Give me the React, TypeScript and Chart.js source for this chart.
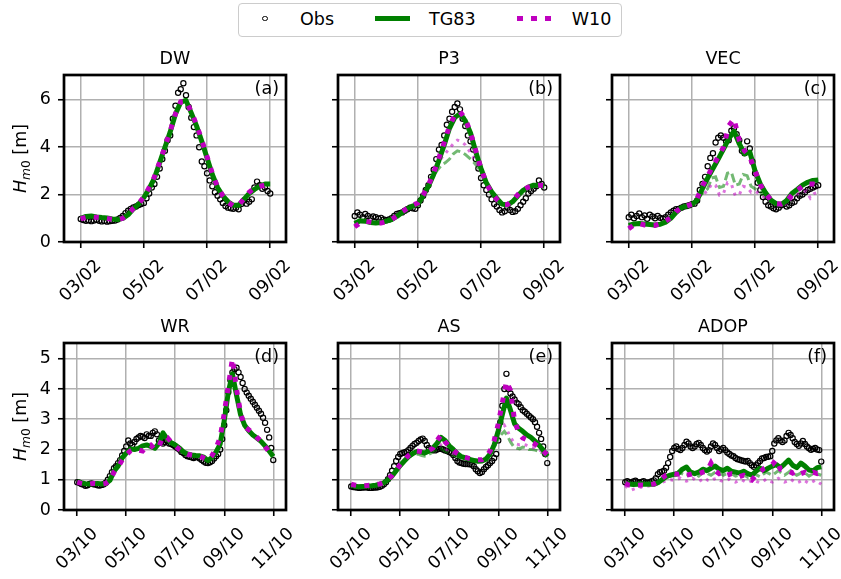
import React, { useEffect, useRef } from 'react';
import { Chart, registerables } from 'chart.js';

Chart.register(...registerables);

const FAMILY = 'DejaVu Sans';
const FONT_PX = 17.5;
Chart.defaults.font.family = FAMILY;

const GREEN = '#008000';
const MAGENTA = '#bf00bf';
const GREEN_LIGHT = 'rgba(0,128,0,0.55)';
const MAGENTA_LIGHT = 'rgba(191,0,191,0.55)';
const GRID = '#b0b0b0';

// Time axes: day of month. Observations every 2 h, model output every 4 h,
// alternative model runs every 3 h.
const START_DAY = 3;
const OBS_STEP = 1 / 12;
const MODEL_STEP = 1 / 6;
const ALT_STEP = 1 / 8;

const TOP_X_TICKS = [3, 5, 7, 9];
const TOP_X_LABELS = ['03/02', '05/02', '07/02', '09/02'];
const BOTTOM_X_TICKS = [3, 5, 7, 9, 11];
const BOTTOM_X_LABELS = ['03/10', '05/10', '07/10', '09/10', '11/10'];
const TOP_Y_TICKS = [0, 2, 4, 6];
const BOTTOM_Y_TICKS = [0, 1, 2, 3, 4, 5];

// ---- DW ----
const dwObs = [0.97, 0.93, 0.90, 0.92, 0.88, 0.91, 0.94, 0.90, 0.87, 0.89, 0.86, 0.88, 0.90,
  0.91, 0.95, 1.02, 1.10, 1.22, 1.32, 1.40, 1.46, 1.50, 1.56, 1.60, 1.65,
  1.85, 2.05, 2.30, 2.45, 2.75, 3.10, 3.50, 3.85, 4.30, 4.50, 5.20, 5.75,
  6.30, 6.45, 6.70, 6.20, 5.70, 5.25, 4.85, 4.50, 4.00, 3.40, 3.20, 2.90,
  2.60, 2.35, 2.10, 1.95, 1.80, 1.65, 1.52, 1.45, 1.42, 1.40, 1.45, 1.38,
  1.60, 1.75, 1.62, 1.70, 1.80, 2.30, 2.55, 2.40, 2.25, 2.30, 2.15, 2.05];
const dwTG83 = [1.00, 1.08, 1.10, 1.06, 1.03, 1.01, 0.97, 0.95, 1.00, 1.15,
  1.40, 1.60, 1.88, 2.25, 2.70, 3.35, 4.00, 4.65, 5.40, 5.90,
  5.98, 5.45, 4.90, 4.25, 3.55, 2.85, 2.30, 1.95, 1.70, 1.55,
  1.55, 1.80, 2.05, 2.22, 2.36, 2.45, 2.45];
const dwW10 = [0.98, 1.04, 1.06, 1.04, 1.02, 0.99, 0.96, 0.94, 1.00, 1.17,
  1.42, 1.62, 1.90, 2.30, 2.75, 3.38, 4.02, 4.68, 5.42, 5.92,
  5.95, 5.50, 4.95, 4.30, 3.60, 2.90, 2.32, 1.95, 1.68, 1.52,
  1.55, 1.82, 2.10, 2.28, 2.35, 2.40, 2.38];

// ---- P3 ----
const p3Obs = [1.10, 1.25, 1.15, 1.05, 1.18, 1.10, 1.00, 1.08, 1.05, 0.98, 1.02, 0.95, 0.92,
  0.95, 1.00, 1.10, 1.18, 1.22, 1.25, 1.32, 1.38, 1.45, 1.42, 1.40, 1.55,
  1.75, 1.95, 2.20, 2.40, 2.75, 3.05, 3.50, 3.90, 4.10, 4.50, 4.95, 5.20,
  5.50, 5.70, 5.85, 5.60, 5.20, 4.90, 4.50, 4.25, 3.90, 3.50, 3.10, 2.70,
  2.40, 2.20, 2.00, 1.80, 1.60, 1.50, 1.35, 1.25, 1.30, 1.45, 1.35, 1.27,
  1.30, 1.40, 1.55, 1.70, 1.85, 2.05, 2.15, 2.25, 2.35, 2.60, 2.45, 2.30];
const p3TG83 = [0.78, 0.90, 0.88, 0.82, 0.80, 0.82, 0.88, 0.95, 1.08, 1.25,
  1.40, 1.52, 1.60, 1.95, 2.35, 2.85, 3.45, 4.10, 4.80, 5.25,
  5.42, 5.12, 4.60, 3.80, 3.10, 2.50, 2.12, 1.84, 1.60, 1.56,
  1.70, 1.95, 2.18, 2.32, 2.40, 2.40, 2.36];
const p3W10 = [0.64, 0.80, 0.88, 0.84, 0.80, 0.80, 0.86, 0.95, 1.10, 1.28,
  1.42, 1.55, 1.65, 1.98, 2.40, 2.92, 3.55, 4.20, 4.90, 5.35,
  5.50, 5.20, 4.62, 3.85, 3.10, 2.48, 2.08, 1.80, 1.60, 1.58,
  1.75, 2.00, 2.20, 2.32, 2.38, 2.40, 2.38];
const p3TG83Alt = [0.78, 0.88, 0.88, 0.84, 0.82, 0.80, 0.81, 0.84,
  0.88, 0.93, 1.02, 1.12, 1.25, 1.36, 1.46, 1.54,
  1.60, 1.85, 2.15, 2.50, 2.80, 3.05, 3.25, 3.35,
  3.50, 3.72, 3.85, 3.80, 3.70, 3.55, 3.40, 3.20,
  2.95, 2.60, 2.25, 2.00, 1.84, 1.66, 1.57, 1.58,
  1.70, 1.88, 2.08, 2.22, 2.32, 2.38, 2.40, 2.40,
  2.36];
const p3W10Alt = [0.64, 0.78, 0.86, 0.86, 0.83, 0.80, 0.80, 0.82,
  0.86, 0.92, 1.02, 1.14, 1.28, 1.38, 1.48, 1.56,
  1.65, 1.90, 2.20, 2.55, 2.90, 3.25, 3.55, 3.75,
  3.95, 4.15, 4.30, 4.25, 4.10, 3.85, 3.60, 3.30,
  3.00, 2.60, 2.22, 1.98, 1.80, 1.66, 1.60, 1.60,
  1.74, 1.92, 2.10, 2.22, 2.32, 2.37, 2.40, 2.39,
  2.38];

// ---- VEC ----
const vecObs = [1.05, 1.15, 1.00, 1.10, 1.20, 1.05, 1.12, 0.98, 1.15, 1.08, 1.00, 1.10, 1.02,
  0.98, 1.05, 1.15, 1.25, 1.32, 1.38, 1.40, 1.45, 1.50, 1.52, 1.55, 1.60,
  1.62, 1.75, 2.20, 2.45, 2.75, 3.20, 3.55, 3.75, 4.20, 4.40, 4.50, 4.40,
  4.25, 4.30, 4.70, 4.80, 4.55, 4.30, 3.85, 3.75, 4.25, 3.95, 3.40, 2.90,
  2.50, 2.20, 1.90, 1.70, 1.55, 1.50, 1.42, 1.38, 1.45, 1.55, 1.60, 1.50,
  1.55, 1.65, 1.70, 1.85, 1.95, 2.00, 2.10, 2.20, 2.25, 2.30, 2.35, 2.40];
const vecTG83 = [0.70, 0.76, 0.78, 0.76, 0.74, 0.72, 0.75, 0.84, 1.00, 1.25,
  1.45, 1.52, 1.58, 1.77, 2.25, 2.70, 3.10, 3.50, 3.92, 4.35,
  4.68, 4.15, 3.72, 3.80, 3.00, 2.45, 2.08, 1.77, 1.62, 1.58,
  1.75, 2.05, 2.22, 2.40, 2.52, 2.60, 2.62];
const vecW10 = [0.56, 0.72, 0.78, 0.72, 0.70, 0.70, 0.78, 0.88, 1.02, 1.28,
  1.45, 1.52, 1.60, 1.85, 2.35, 2.78, 3.20, 3.60, 4.00, 4.90,
  5.20, 4.30, 3.85, 3.60, 3.00, 2.42, 2.05, 1.78, 1.62, 1.60,
  1.72, 1.98, 2.18, 2.35, 2.45, 2.45, 2.40];
const vecTG83Alt = [0.70, 0.75, 0.78, 0.77, 0.76, 0.74, 0.73, 0.72,
  0.75, 0.81, 0.92, 1.08, 1.25, 1.40, 1.50, 1.54,
  1.58, 1.70, 1.95, 2.10, 2.25, 2.70, 2.75, 2.30,
  2.35, 2.90, 2.95, 2.40, 2.45, 2.85, 2.80, 2.35,
  2.25, 2.15, 2.00, 1.85, 1.75, 1.65, 1.60, 1.58,
  1.72, 1.95, 2.12, 2.25, 2.38, 2.48, 2.55, 2.60,
  2.62];
const vecW10Alt = [0.56, 0.68, 0.76, 0.74, 0.72, 0.70, 0.69, 0.70,
  0.76, 0.84, 0.95, 1.12, 1.28, 1.42, 1.48, 1.52,
  1.58, 1.72, 1.92, 2.05, 2.15, 2.45, 2.40, 1.98,
  2.05, 2.50, 2.45, 1.95, 2.00, 2.35, 2.30, 2.10,
  2.15, 2.05, 1.92, 1.80, 1.72, 1.62, 1.58, 1.55,
  1.62, 1.80, 1.95, 2.05, 2.10, 2.15, 1.85, 2.05,
  2.10];

// ---- WR ----
const wrObs = [0.92, 0.90, 0.86, 0.84, 0.80, 0.82, 0.86, 0.88, 0.85, 0.84, 0.82, 0.81, 0.83,
  0.85, 0.90, 1.00, 1.12, 1.25, 1.38, 1.45, 1.55, 1.65, 1.80, 1.95, 2.10,
  2.30, 2.20, 2.15, 2.25, 2.35, 2.40, 2.45, 2.42, 2.38, 2.50, 2.45, 2.45,
  2.55, 2.60, 2.50, 2.30, 2.25, 2.20, 2.25, 2.28, 2.20, 2.18, 2.15, 2.10,
  2.05, 2.00, 1.92, 1.88, 1.82, 1.78, 1.76, 1.74, 1.72, 1.75, 1.74, 1.70,
  1.65, 1.60, 1.56, 1.55, 1.58, 1.62, 1.70, 1.78, 1.85, 2.00, 2.35, 2.80,
  3.30, 3.90, 4.30, 4.55, 4.65, 4.70, 4.55, 4.40, 4.20, 4.00, 3.88, 3.78,
  3.68, 3.58, 3.48, 3.38, 3.28, 3.18, 3.05, 2.88, 2.65, 2.40, 2.05, 1.65];
const wrTG83 = [0.94, 0.90, 0.87, 0.86, 0.87, 0.88, 0.86, 0.87, 0.98, 1.28,
  1.45, 1.72, 1.88, 2.02, 2.00, 2.04, 2.12, 2.15, 2.10, 2.04,
  2.20, 2.55, 2.35, 2.22, 2.15, 2.05, 1.92, 1.85, 1.82, 1.80,
  1.79, 1.75, 1.63, 1.74, 1.92, 2.18, 2.95, 3.90, 4.50, 3.80,
  3.15, 2.80, 2.62, 2.48, 2.38, 2.27, 2.12, 1.95, 1.77];
const wrW10 = [0.92, 0.88, 0.85, 0.86, 0.88, 0.87, 0.86, 0.88, 0.98, 1.25,
  1.42, 1.65, 1.82, 1.95, 2.00, 1.98, 1.95, 2.12, 2.15, 2.00,
  2.10, 2.42, 2.40, 2.25, 2.12, 2.00, 1.90, 1.84, 1.82, 1.80,
  1.78, 1.72, 1.65, 1.80, 2.05, 2.40, 3.20, 4.10, 5.00, 4.00,
  3.20, 2.75, 2.65, 2.55, 2.40, 2.28, 2.10, 1.92, 1.80];

// ---- AS ----
const asObs = [0.78, 0.76, 0.75, 0.74, 0.73, 0.74, 0.74, 0.75, 0.74, 0.73, 0.73, 0.74, 0.74,
  0.75, 0.77, 0.80, 0.85, 0.92, 1.02, 1.15, 1.30, 1.45, 1.62, 1.75, 1.85,
  1.88, 1.90, 1.93, 1.98, 2.05, 2.12, 2.18, 2.22, 2.28, 2.33, 2.36, 2.28,
  2.15, 2.05, 2.00, 1.98, 1.97, 2.00, 2.02, 2.03, 2.00, 1.97, 1.95, 1.92,
  1.88, 1.82, 1.72, 1.62, 1.57, 1.55, 1.53, 1.52, 1.52, 1.51, 1.50, 1.45,
  1.35, 1.28, 1.22, 1.26, 1.35, 1.42, 1.48, 1.55, 1.62, 1.72, 1.85, 2.30,
  2.90, 3.45, 4.00, 4.50, 4.00, 3.85, 3.75, 3.65, 3.55, 3.50, 3.40, 3.30,
  3.25, 3.18, 3.12, 3.06, 3.00, 2.90, 2.75, 2.55, 2.35, 2.10, 1.85, 1.55];
const asTG83 = [0.83, 0.78, 0.77, 0.78, 0.79, 0.80, 0.82, 0.85, 0.90, 1.00,
  1.12, 1.30, 1.47, 1.62, 1.76, 1.86, 1.93, 1.92, 1.88, 1.95,
  2.05, 2.20, 2.40, 2.30, 2.12, 2.00, 1.86, 1.76, 1.72, 1.67,
  1.64, 1.61, 1.62, 1.68, 1.85, 2.15, 2.62, 3.15, 3.70, 3.30,
  2.85, 2.70, 2.60, 2.48, 2.40, 2.28, 2.14, 1.98, 1.77];
const asW10 = [0.85, 0.82, 0.80, 0.80, 0.81, 0.82, 0.84, 0.86, 0.92, 1.02,
  1.14, 1.32, 1.50, 1.65, 1.80, 1.90, 1.95, 1.93, 1.90, 1.96,
  2.05, 2.30, 2.48, 2.25, 2.10, 1.98, 1.86, 1.78, 1.74, 1.70,
  1.68, 1.66, 1.66, 1.75, 1.95, 2.30, 2.85, 3.55, 4.25, 3.95,
  2.95, 2.55, 2.38, 2.32, 2.25, 2.18, 2.08, 1.95, 1.82];
const asTG83Alt = [0.83, 0.80, 0.78, 0.77, 0.78, 0.79, 0.80, 0.81,
  0.82, 0.84, 0.87, 0.92, 1.00, 1.08, 1.20, 1.35,
  1.47, 1.58, 1.68, 1.76, 1.82, 1.85, 1.84, 1.80,
  1.78, 1.82, 1.88, 1.95, 2.02, 2.05, 1.98, 1.92,
  1.88, 1.82, 1.78, 1.74, 1.70, 1.68, 1.66, 1.64,
  1.62, 1.60, 1.60, 1.62, 1.66, 1.78, 1.95, 2.15,
  2.35, 2.50, 2.60, 2.45, 2.25, 2.10, 2.05, 2.02,
  2.08, 2.05, 2.00, 2.00, 1.98, 1.95, 1.90, 1.85,
  1.77];
const asW10Alt = [0.85, 0.83, 0.81, 0.80, 0.80, 0.81, 0.82, 0.83,
  0.84, 0.86, 0.89, 0.94, 1.02, 1.10, 1.22, 1.37,
  1.50, 1.62, 1.72, 1.80, 1.86, 1.90, 1.90, 1.88,
  1.86, 1.90, 1.96, 2.04, 2.12, 2.18, 2.08, 2.00,
  1.95, 1.88, 1.82, 1.77, 1.74, 1.72, 1.70, 1.68,
  1.66, 1.65, 1.65, 1.68, 1.74, 1.88, 2.08, 2.30,
  2.52, 2.70, 2.80, 2.62, 2.40, 2.25, 2.18, 2.15,
  2.18, 2.15, 2.10, 2.08, 2.05, 2.00, 1.95, 1.88,
  1.82];

// ---- ADOP ----
const adopObs = [0.92, 0.95, 0.92, 0.90, 0.94, 0.97, 0.92, 0.90, 0.93, 0.95, 0.91, 0.90, 0.92,
  0.95, 0.98, 1.05, 1.18, 1.25, 1.27, 1.30, 1.40, 1.55, 1.75, 1.95, 2.05,
  2.10, 2.02, 1.98, 2.05, 2.15, 2.26, 2.20, 2.10, 2.05, 2.10, 2.18, 2.22,
  2.15, 2.05, 1.98, 1.93, 1.98, 2.10, 2.20, 2.15, 2.05, 1.95, 2.00, 2.05,
  1.98, 1.90, 1.85, 1.80, 1.78, 1.72, 1.68, 1.66, 1.64, 1.62, 1.60, 1.62,
  1.55, 1.48, 1.43, 1.48, 1.55, 1.62, 1.70, 1.72, 1.75, 1.76, 1.78, 1.95,
  2.20, 2.30, 2.37, 2.30, 2.25, 2.30, 2.45, 2.55, 2.48, 2.37, 2.25, 2.18,
  2.12, 2.20, 2.28, 2.18, 2.10, 2.04, 1.99, 2.02, 2.05, 2.00, 1.98, 1.60];
const adopTG83 = [0.88, 0.86, 0.84, 0.85, 0.86, 0.85, 0.86, 0.85, 0.90, 1.00,
  1.10, 1.15, 1.18, 1.22, 1.35, 1.42, 1.25, 1.20, 1.25, 1.35,
  1.30, 1.38, 1.45, 1.35, 1.30, 1.38, 1.28, 1.25, 1.22, 1.28,
  1.20, 1.15, 1.28, 1.38, 1.30, 1.38, 1.45, 1.50, 1.40, 1.52,
  1.65, 1.48, 1.40, 1.55, 1.45, 1.32, 1.30, 1.40, 1.43];
const adopW10 = [0.88, 0.82, 0.80, 0.82, 0.83, 0.82, 0.84, 0.86, 0.92, 1.05,
  1.15, 1.20, 1.20, 1.18, 1.22, 1.15, 1.18, 1.22, 1.20, 1.25,
  1.28, 1.55, 1.30, 1.20, 1.25, 1.15, 1.20, 1.18, 1.10, 1.15,
  1.05, 0.99, 1.15, 1.25, 1.38, 1.45, 1.50, 1.66, 1.35, 1.30,
  1.28, 1.22, 1.30, 1.20, 1.25, 1.18, 1.25, 1.20, 1.25];
const adopTG83Alt = [0.88, 0.85, 0.84, 0.83, 0.84, 0.85, 0.84, 0.85,
  0.86, 0.86, 0.88, 0.95, 1.00, 1.06, 1.10, 1.12,
  1.12, 1.15, 1.22, 1.18, 1.12, 1.18, 1.25, 1.18,
  1.12, 1.20, 1.28, 1.20, 1.15, 1.22, 1.30, 1.22,
  1.15, 1.20, 1.25, 1.18, 1.12, 1.15, 1.22, 1.15,
  1.08, 1.12, 1.20, 1.15, 1.10, 1.18, 1.25, 1.20,
  1.15, 1.22, 1.30, 1.22, 1.15, 1.22, 1.30, 1.22,
  1.15, 1.20, 1.28, 1.20, 1.12, 1.18, 1.25, 1.18,
  1.15];
const adopW10Alt = [0.80, 0.72, 0.66, 0.70, 0.74, 0.76, 0.75, 0.78,
  0.80, 0.82, 0.85, 0.88, 0.92, 0.95, 0.98, 1.00,
  0.98, 1.02, 1.05, 0.98, 0.95, 1.00, 1.05, 0.98,
  0.94, 1.00, 1.06, 0.98, 0.95, 1.02, 1.05, 0.98,
  0.94, 0.98, 1.02, 0.96, 0.92, 0.96, 1.00, 0.94,
  0.90, 0.95, 1.00, 0.94, 0.90, 0.95, 1.02, 0.96,
  0.92, 0.98, 1.05, 0.98, 0.92, 0.96, 1.02, 0.95,
  0.90, 0.94, 1.00, 0.94, 0.88, 0.92, 0.98, 0.92,
  0.85];

type Row = 'top' | 'bottom';
interface PanelSpec {
  title: string;
  letter: string;
  row: Row;
  col: number;
  obs: number[];
  tg83: number[];
  w10: number[];
  tg83Alt?: number[];
  w10Alt?: number[];
}

const PANELS: PanelSpec[] = [
  { title: 'DW', letter: '(a)', row: 'top', col: 0, obs: dwObs, tg83: dwTG83, w10: dwW10 },
  { title: 'P3', letter: '(b)', row: 'top', col: 1, obs: p3Obs, tg83: p3TG83, w10: p3W10, tg83Alt: p3TG83Alt, w10Alt: p3W10Alt },
  { title: 'VEC', letter: '(c)', row: 'top', col: 2, obs: vecObs, tg83: vecTG83, w10: vecW10, tg83Alt: vecTG83Alt, w10Alt: vecW10Alt },
  { title: 'WR', letter: '(d)', row: 'bottom', col: 0, obs: wrObs, tg83: wrTG83, w10: wrW10 },
  { title: 'AS', letter: '(e)', row: 'bottom', col: 1, obs: asObs, tg83: asTG83, w10: asW10, tg83Alt: asTG83Alt, w10Alt: asW10Alt },
  { title: 'ADOP', letter: '(f)', row: 'bottom', col: 2, obs: adopObs, tg83: adopTG83, w10: adopW10, tg83Alt: adopTG83Alt, w10Alt: adopW10Alt },
];

// Layout of the 2x3 grid of axes (page pixels)
const PLOT_W = 222;
const PLOT_H = 167;
const COL_LEFT = [64, 338, 612];
const ROW_TOP = [75, 343];
const PAD_L = 64;
const PAD_T = 35;
const PAD_R = 30;
const PAD_B = 70;
const CANVAS_W = PAD_L + PLOT_W + PAD_R;
const CANVAS_H = PAD_T + PLOT_H + PAD_B;

const series = (values: number[], step: number) =>
  values.map((y, i) => ({ x: START_DAY + i * step, y }));

function drawYLabel(ctx: CanvasRenderingContext2D, x: number, y: number) {
  const sub = FONT_PX * 0.7;
  const parts = [
    { t: 'H', f: `italic ${FONT_PX}px "${FAMILY}"`, dy: 0 },
    { t: 'm', f: `italic ${sub}px "${FAMILY}"`, dy: 4 },
    { t: '0', f: `${sub}px "${FAMILY}"`, dy: 4 },
    { t: ' [m]', f: `${FONT_PX}px "${FAMILY}"`, dy: 0 },
  ];
  ctx.save();
  ctx.translate(x, y);
  ctx.rotate(-Math.PI / 2);
  ctx.textAlign = 'left';
  ctx.textBaseline = 'alphabetic';
  const widths = parts.map((p) => {
    ctx.font = p.f;
    return ctx.measureText(p.t).width;
  });
  let cx = -widths.reduce((a, b) => a + b, 0) / 2;
  parts.forEach((p, i) => {
    ctx.font = p.f;
    ctx.fillText(p.t, cx, p.dy);
    cx += widths[i];
  });
  ctx.restore();
}

function decorPlugin(spec: PanelSpec, tickDays: number[], tickLabels: string[]) {
  return {
    id: 'panelDecor',
    afterDatasetsDraw(chart: any) {
      const { ctx, chartArea: a } = chart;
      ctx.save();
      ctx.setLineDash([]);
      ctx.strokeStyle = '#000';
      ctx.lineWidth = 2.7;
      ctx.strokeRect(a.left, a.top, a.right - a.left, a.bottom - a.top);
      ctx.restore();
    },
    afterDraw(chart: any) {
      const { ctx, chartArea: a } = chart;
      const xs = chart.scales.x;
      ctx.save();
      ctx.fillStyle = '#000';
      ctx.font = `${FONT_PX}px "${FAMILY}"`;
      ctx.textAlign = 'center';
      ctx.textBaseline = 'alphabetic';
      ctx.fillText(spec.title, (a.left + a.right) / 2, a.top - 11);
      ctx.textAlign = 'right';
      ctx.fillText(spec.letter, a.right - 7, a.top + 18.5);
      ctx.textAlign = 'center';
      ctx.textBaseline = 'middle';
      tickDays.forEach((d, i) => {
        const px = xs.getPixelForValue(d);
        ctx.save();
        ctx.translate(px, a.bottom + 39);
        ctx.rotate(-Math.PI / 4);
        ctx.fillText(tickLabels[i], 0, 0);
        ctx.restore();
      });
      if (spec.col === 0) drawYLabel(ctx, 26, (a.top + a.bottom) / 2);
      ctx.restore();
    },
  };
}

function Panel({ spec }: { spec: PanelSpec }) {
  const ref = useRef<HTMLCanvasElement>(null);

  useEffect(() => {
    const canvas = ref.current;
    if (!canvas) return;
    const isTop = spec.row === 'top';
    const xTicks = isTop ? TOP_X_TICKS : BOTTOM_X_TICKS;
    const xLabels = isTop ? TOP_X_LABELS : BOTTOM_X_LABELS;
    const yTicks = isTop ? TOP_Y_TICKS : BOTTOM_Y_TICKS;

    const datasets: any[] = [
      {
        label: 'W10', data: series(spec.w10, MODEL_STEP), order: 0,
        borderColor: MAGENTA, borderWidth: 5, borderDash: [5, 8.25], borderCapStyle: 'butt',
        pointRadius: 0, tension: 0, fill: false,
      },
      {
        label: 'TG83', data: series(spec.tg83, MODEL_STEP), order: 1,
        borderColor: GREEN, borderWidth: 5, borderJoinStyle: 'round',
        pointRadius: 0, tension: 0, fill: false,
      },
    ];
    if (spec.w10Alt) {
      datasets.push({
        label: 'W10 alt', data: series(spec.w10Alt, ALT_STEP), order: 2,
        borderColor: MAGENTA_LIGHT, borderWidth: 3, borderDash: [3, 5],
        pointRadius: 0, tension: 0, fill: false,
      });
    }
    if (spec.tg83Alt) {
      datasets.push({
        label: 'TG83 alt', data: series(spec.tg83Alt, ALT_STEP), order: 3,
        borderColor: GREEN_LIGHT, borderWidth: 3, borderDash: [9, 4],
        pointRadius: 0, tension: 0, fill: false,
      });
    }
    datasets.push({
      label: 'Obs', data: series(spec.obs, OBS_STEP), order: 4,
      showLine: false, pointStyle: 'circle', pointRadius: 2.6, pointBorderWidth: 1.2,
      pointBorderColor: '#000', pointBackgroundColor: 'rgba(0,0,0,0)',
    });

    const gridOpts = {
      color: GRID, lineWidth: 1.5, drawTicks: true, tickLength: 6,
      tickColor: '#000', tickWidth: 1.6,
    };

    const chart = new Chart(canvas, {
      type: 'line',
      data: { datasets },
      options: {
        responsive: false,
        animation: false,
        events: [],
        layout: { padding: { left: 0, top: PAD_T, right: PAD_R, bottom: 0 } },
        plugins: { legend: { display: false }, tooltip: { enabled: false } },
        scales: {
          x: {
            type: 'linear',
            min: isTop ? 2.47 : 2.46,
            max: isTop ? 9.5 : 11.52,
            afterBuildTicks: (s: any) => { s.ticks = xTicks.map((v) => ({ value: v })); },
            afterFit: (s: any) => { s.height = PAD_B; },
            ticks: { display: false, autoSkip: false },
            grid: gridOpts,
            border: { display: false },
          },
          y: {
            type: 'linear',
            min: 0,
            max: isTop ? 7.05 : 5.52,
            afterBuildTicks: (s: any) => { s.ticks = yTicks.map((v) => ({ value: v })); },
            afterFit: (s: any) => { s.width = PAD_L; },
            ticks: {
              autoSkip: false,
              padding: 7,
              color: '#000',
              font: { family: FAMILY, size: FONT_PX },
              callback: (v: any) => (spec.col === 0 ? String(v) : ''),
            },
            grid: gridOpts,
            border: { display: false },
          },
        },
      } as any,
      plugins: [decorPlugin(spec, xTicks, xLabels)],
    });
    return () => chart.destroy();
  }, [spec]);

  const left = COL_LEFT[spec.col] - PAD_L;
  const top = ROW_TOP[spec.row === 'top' ? 0 : 1] - PAD_T;
  return (
    <canvas
      ref={ref}
      width={CANVAS_W}
      height={CANVAS_H}
      style={{ position: 'absolute', left, top, width: CANVAS_W, height: CANVAS_H }}
    />
  );
}

const legendText: React.CSSProperties = {
  position: 'absolute', top: 4.8, fontFamily: FAMILY, fontSize: FONT_PX,
  lineHeight: '20px', color: '#000', whiteSpace: 'nowrap',
};

function Legend() {
  return (
    <div
      style={{
        position: 'absolute', left: 238, top: 3, width: 384, height: 34,
        boxSizing: 'border-box', border: '1px solid #cccccc', borderRadius: 4,
        background: '#fff',
      }}
    >
      <span
        style={{
          position: 'absolute', left: 23.4, top: 11.9, width: 5.2, height: 5.2,
          boxSizing: 'border-box', border: '1.2px solid #000', borderRadius: '50%',
        }}
      />
      <span style={{ ...legendText, left: 61 }}>Obs</span>
      <span style={{ position: 'absolute', left: 136, top: 12, width: 35, height: 5, background: GREEN }} />
      <span style={{ ...legendText, left: 190 }}>TG83</span>
      {[278, 292, 306].map((x) => (
        <span key={x} style={{ position: 'absolute', left: x, top: 11.75, width: 5.5, height: 5.5, background: MAGENTA }} />
      ))}
      <span style={{ ...legendText, left: 332.7 }}>W10</span>
    </div>
  );
}

export default function App() {
  return (
    <div
      style={{
        position: 'absolute', left: 0, top: 0, width: 841, height: 579,
        overflow: 'hidden', background: '#fff',
      }}
    >
      <Legend />
      {PANELS.map((p) => (
        <Panel key={p.title} spec={p} />
      ))}
    </div>
  );
}
